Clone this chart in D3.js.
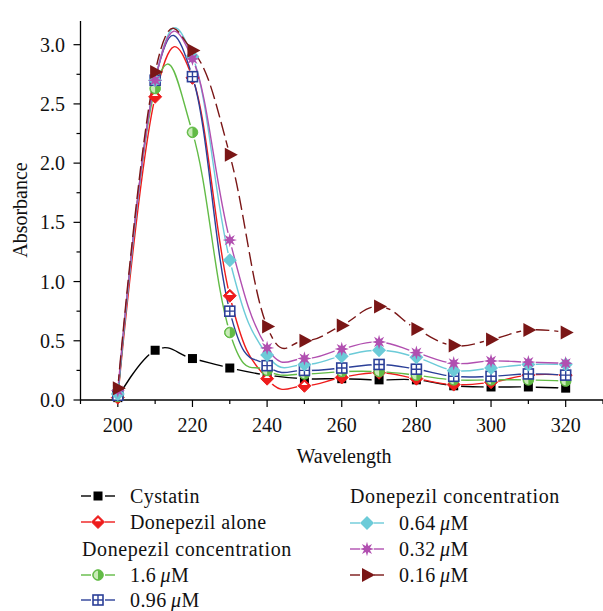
<!DOCTYPE html>
<html><head><meta charset="utf-8">
<script src="https://cdn.jsdelivr.net/npm/d3@7"></script>
<style>body{margin:0;background:#fff} text{font-family:"Liberation Serif","Times New Roman",serif;fill:#111;}</style>
</head><body><svg id="c" width="603" height="611"></svg>
<script>
const wavelengths = [200,210,220,230,240,250,260,270,280,290,300,310,320];
const cystatin    = [0.02,0.42,0.35,0.27,0.21,0.18,0.18,0.17,0.17,0.12,0.11,0.11,0.10];
const donepezil   = [0.02,2.56,2.72,0.88,0.18,0.12,0.19,0.23,0.18,0.13,0.15,0.21,0.21];
const conc160     = [0.03,2.63,2.26,0.57,0.25,0.22,0.24,0.24,0.21,0.17,0.17,0.17,0.16];
const conc096     = [0.04,2.70,2.73,0.75,0.29,0.25,0.27,0.30,0.26,0.20,0.20,0.22,0.21];
const conc064     = [0.05,2.70,2.90,1.18,0.38,0.30,0.37,0.42,0.36,0.25,0.27,0.30,0.30];
const conc032     = [0.08,2.70,2.88,1.35,0.44,0.35,0.43,0.49,0.40,0.31,0.33,0.32,0.31];
const conc016     = [0.10,2.77,2.95,2.07,0.62,0.50,0.63,0.79,0.60,0.46,0.51,0.59,0.57];
const xTicks = [200,220,240,260,280,300,320];
const yTicks = [0,0.5,1.0,1.5,2.0,2.5,3.0];

const series = [
  {label:"Cystatin", values:cystatin, color:"#000000", marker:"square", dash:null},
  {label:"Donepezil alone", values:donepezil, color:"#ee1c1c", marker:"diamondHalf", dash:null},
  {label:"1.6", values:conc160, color:"#62bb46", marker:"circleHalf", dash:null},
  {label:"0.96", values:conc096, color:"#2b3f98", marker:"squarePlus", dash:null},
  {label:"0.64", values:conc064, color:"#6ccbd8", marker:"diamond", dash:null},
  {label:"0.32", values:conc032, color:"#b14fb0", marker:"star", dash:null},
  {label:"0.16", values:conc016, color:"#7a1616", marker:"triangle", dash:"14,5"}
];

const svg = d3.select("#c");
const x = d3.scaleLinear().domain([190,330]).range([80.5,603]);
const y = d3.scaleLinear().domain([0,3.2]).range([400,21]);

function drawMarker(g, type, color, cx, cy){
  const m = g.append("g").attr("transform",`translate(${cx},${cy})`);
  if(type==="square"){
    m.append("rect").attr("x",-4.5).attr("y",-4.5).attr("width",9).attr("height",9).attr("fill",color);
  } else if(type==="diamondHalf"){
    m.append("path").attr("d","M0,-6.5L6.5,0L0,6.5L-6.5,0Z").attr("fill",color).attr("stroke",color).attr("stroke-width",1);
    m.append("path").attr("d","M0,-4L3.2,-0.8L-3.2,-0.8Z").attr("fill","#fff");
  } else if(type==="circleHalf"){
    m.append("circle").attr("r",5.3).attr("fill",color).attr("stroke",color).attr("stroke-width",1);
    m.append("path").attr("d","M0,-4.3A4.3,4.3 0 0,0 0,4.3Z").attr("fill","#c9ebb8");
  } else if(type==="squarePlus"){
    m.append("rect").attr("x",-5).attr("y",-5).attr("width",10).attr("height",10).attr("fill","#fff").attr("stroke",color).attr("stroke-width",1.6);
    m.append("path").attr("d","M-5,0H5M0,-5V5").attr("stroke",color).attr("stroke-width",1.4);
  } else if(type==="diamond"){
    m.append("path").attr("d","M0,-7L7,0L0,7L-7,0Z").attr("fill",color);
  } else if(type==="star"){
    const pts = d3.range(16).map(i=>{const a=i*Math.PI/8 - Math.PI/2; const r=i%2?3.2:7.2; return [r*Math.cos(a), r*Math.sin(a)];});
    m.append("path").attr("d","M"+pts.map(p=>p.join(",")).join("L")+"Z").attr("fill",color);
  } else if(type==="triangle"){
    m.append("path").attr("d","M-5,-7L8,0L-5,7Z").attr("fill",color);
  }
}

// axes
const axisG = svg.append("g");
axisG.append("line").attr("x1",x(190)).attr("x2",603).attr("y1",y(0)).attr("y2",y(0)).attr("stroke","#000").attr("stroke-width",1.3);
axisG.append("line").attr("x1",x(190)).attr("x2",x(190)).attr("y1",y(0)).attr("y2",y(3.2)).attr("stroke","#000").attr("stroke-width",1.3);
d3.range(190,331,10).forEach(v=>{
  const major = xTicks.includes(v);
  axisG.append("line").attr("x1",x(v)).attr("x2",x(v)).attr("y1",y(0)).attr("y2",y(0)+(major?7:4)).attr("stroke","#000").attr("stroke-width",1.2);
});
xTicks.forEach(v=>{
  axisG.append("text").attr("x",x(v)).attr("y",432).attr("text-anchor","middle").attr("font-size",20).text(v);
});
d3.range(0,3.21,0.25).forEach(v=>{
  const major = Math.abs(v*2-Math.round(v*2))<1e-6;
  axisG.append("line").attr("x1",x(190)).attr("x2",x(190)-(major?7:4)).attr("y1",y(v)).attr("y2",y(v)).attr("stroke","#000").attr("stroke-width",1.2);
});
yTicks.forEach(v=>{
  axisG.append("text").attr("x",65).attr("y",y(v)+7).attr("text-anchor","end").attr("font-size",20).text(v.toFixed(1));
});
svg.append("text").attr("x",344).attr("y",463).attr("text-anchor","middle").attr("font-size",20).text("Wavelength");
svg.append("text").attr("transform","translate(27,210) rotate(-90)").attr("text-anchor","middle").attr("font-size",20).text("Absorbance");

// lines with gaps near markers
const defs = svg.append("defs");
const line = d3.line().x((d,i)=>x(wavelengths[i])).y(d=>y(d)).curve(d3.curveCardinal.tension(-0.25));
series.forEach((s,si)=>{
  const mask = defs.append("mask").attr("id","m"+si).attr("maskUnits","userSpaceOnUse").attr("x",0).attr("y",0).attr("width",603).attr("height",611);
  mask.append("rect").attr("width",603).attr("height",611).attr("fill","#fff");
  s.values.forEach((v,i)=>mask.append("circle").attr("cx",x(wavelengths[i])).attr("cy",y(v)).attr("r",7.5).attr("fill","#000"));
  svg.append("path").datum(s.values).attr("d",line).attr("fill","none").attr("stroke",s.color)
    .attr("stroke-width",1.4).attr("stroke-dasharray",s.dash).attr("mask","url(#m"+si+")");
});
series.forEach(s=>{
  const g = svg.append("g");
  s.values.forEach((v,i)=>drawMarker(g,s.marker,s.color,x(wavelengths[i]),y(v)));
});

// legend
function legendItem(lx, cy, s){
  const g = svg.append("g");
  g.append("line").attr("x1",lx).attr("x2",lx+10).attr("y1",cy).attr("y2",cy).attr("stroke",s.color).attr("stroke-width",1.4);
  g.append("line").attr("x1",lx+24).attr("x2",lx+34).attr("y1",cy).attr("y2",cy).attr("stroke",s.color).attr("stroke-width",1.4);
  drawMarker(g,s.marker,s.color,lx+17,cy);
  const t = g.append("text").attr("x",lx+49).attr("y",cy+7).attr("font-size",20).attr("letter-spacing",0.4);
  if(s.label==="Cystatin"||s.label==="Donepezil alone"){ t.text(s.label); }
  else { t.append("tspan").text(s.label+"\u2009"); t.append("tspan").attr("font-style","italic").text("\u03bc"); t.append("tspan").text("M"); }
}
legendItem(81,496,series[0]);
legendItem(81,522,series[1]);
svg.append("text").attr("x",82).attr("y",556).attr("font-size",20).attr("letter-spacing",0.6).text("Donepezil concentration");
legendItem(81,575,series[2]);
legendItem(81,600,series[3]);
svg.append("text").attr("x",350).attr("y",503).attr("font-size",20).attr("letter-spacing",0.6).text("Donepezil concentration");
legendItem(350,523,series[4]);
legendItem(350,549,series[5]);
legendItem(350,575,series[6]);
</script></body></html>
